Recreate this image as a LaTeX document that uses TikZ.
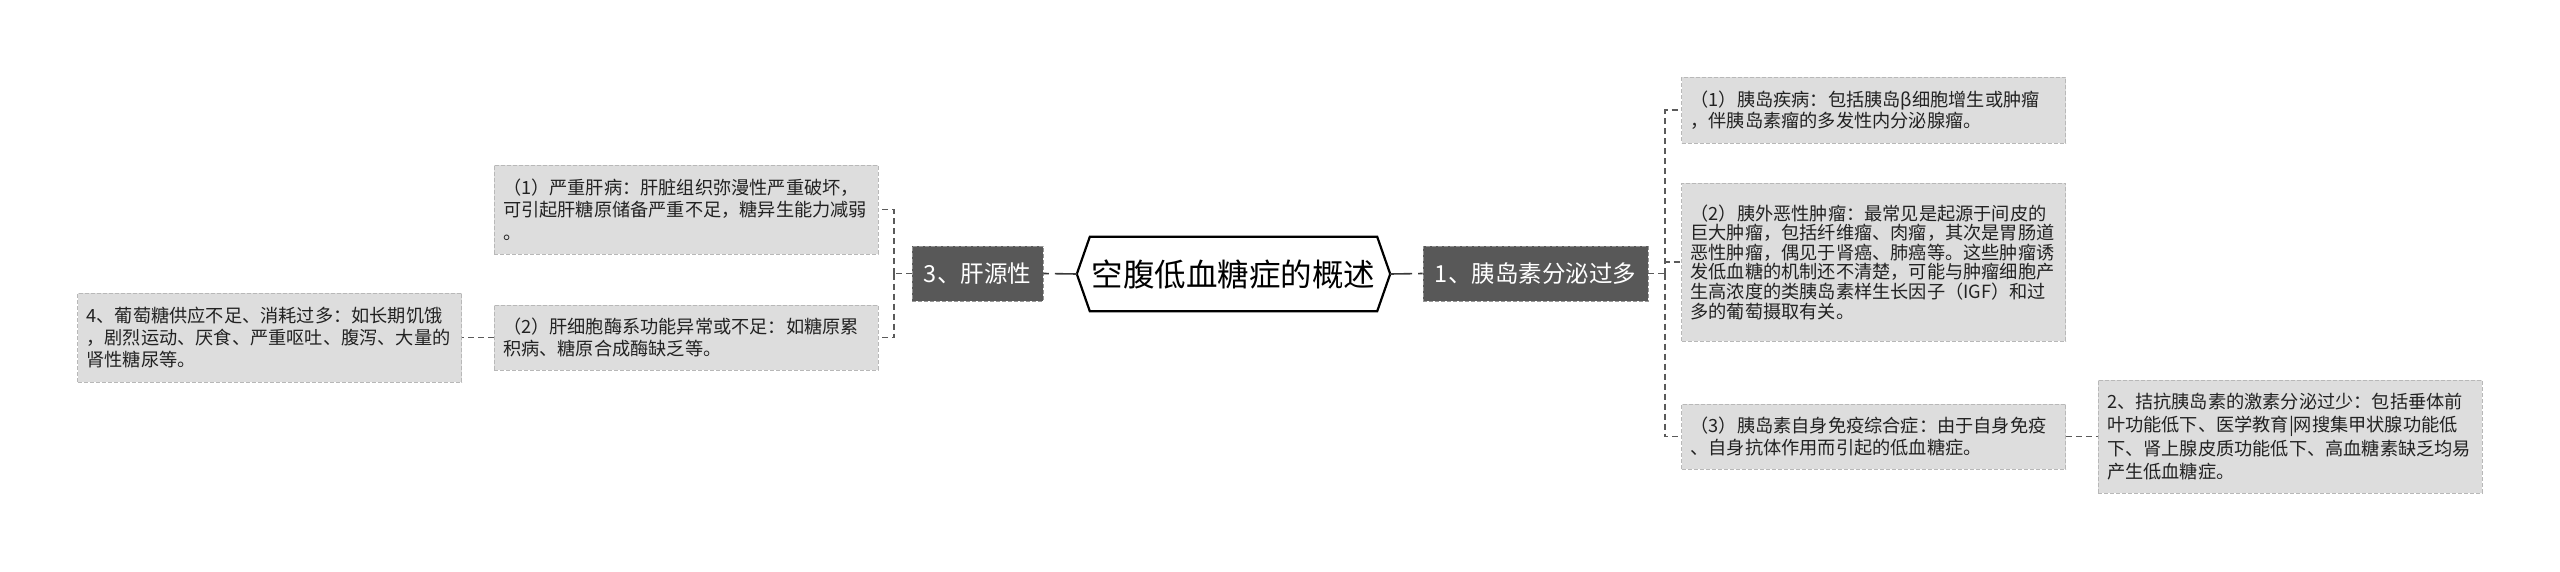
\documentclass[tikz,border=0pt]{standalone}
\usepackage{fontspec}
\setmainfont{Noto Sans CJK SC}
\usetikzlibrary{calc}
\definecolor{leaffill}{HTML}{DDDDDD}
\definecolor{leafdraw}{HTML}{B8B8B8}
\definecolor{midfill}{HTML}{585858}
\definecolor{middraw}{HTML}{959595}
\definecolor{linkc}{HTML}{5A5A5A}
\definecolor{hexlinkc}{HTML}{3A3A3A}
\definecolor{txt}{HTML}{222222}
\begin{document}
\begin{tikzpicture}[x=1pt,y=-1pt,
  leaf/.style={draw=leafdraw, fill=leaffill, dash pattern=on 4pt off 2pt, line width=0.8pt,
    text=txt, align=left, text width=366pt, inner xsep=9pt, inner ysep=0pt, anchor=center},
  leafA/.style={leaf, font=\fontsize{18.2}{21.5}\selectfont},
  midbox/.style={draw=middraw, fill=midfill, dash pattern=on 4pt off 2pt, line width=0.8pt,
    text=white, inner sep=0pt, minimum height=55pt, anchor=center,
    font=\fontsize{23.5}{26}\selectfont},
  hexbox/.style={draw=none, inner sep=0pt, minimum width=313pt, minimum height=74pt,
    anchor=center, font=\fontsize{31.5}{34}\selectfont, text=black},
  link/.style={draw=linkc, line width=1.5pt, dash pattern=on 6pt off 4pt},
  hexlink/.style={draw=hexlinkc, line width=1.6pt, dash pattern=on 22pt off 6pt},
]
\useasboundingbox (0,0) rectangle (2560,571);

% centre
\node[hexbox] (c) at (1233.5,274) {空腹低血糖症的概述};
\draw[line width=2.2pt, line join=miter]
  (c.west) -- ([xshift=13pt]c.north west) -- ([xshift=-13pt]c.north east)
  -- (c.east) -- ([xshift=-13pt]c.south east) -- ([xshift=13pt]c.south west) -- cycle;

% level 1
\node[midbox, minimum width=131pt] (s3) at (977.5,273.5) {3、肝源性};
\node[midbox, minimum width=225pt] (s1) at (1535.5,273.5) {1、胰岛素分泌过多};

% left leaves
\node[leaf, minimum height=89pt, font=\fontsize{18.2}{22.3}\selectfont] (l1) at (686,209.5)
  {（1）严重肝病：肝脏组织弥漫性严重破坏，\\可引起肝糖原储备严重不足，糖异生能力减弱\\。};
\node[leafA, minimum height=65pt] (l2) at (686,337.5)
  {（2）肝细胞酶系功能异常或不足：如糖原累\\积病、糖原合成酶缺乏等。};
\node[leaf, minimum height=89pt, font=\fontsize{18.2}{22.3}\selectfont] (n4) at (269.5,337.5)
  {4、葡萄糖供应不足、消耗过多：如长期饥饿\\，剧烈运动、厌食、严重呕吐、腹泻、大量的\\肾性糖尿等。};

% right leaves
\node[leafA, minimum height=66pt] (r1) at (1873.5,110)
  {（1）胰岛疾病：包括胰岛β细胞增生或肿瘤\\，伴胰岛素瘤的多发性内分泌腺瘤。};
\node[leaf, minimum height=158pt, font=\fontsize{18.2}{19.6}\selectfont] (r2) at (1873.5,262)
  {（2）胰外恶性肿瘤：最常见是起源于间皮的\\巨大肿瘤，包括纤维瘤、肉瘤，其次是胃肠道\\恶性肿瘤，偶见于肾癌、肺癌等。这些肿瘤诱\\发低血糖的机制还不清楚，可能与肿瘤细胞产\\生高浓度的类胰岛素样生长因子（IGF）和过\\多的葡萄摄取有关。};
\node[leafA, minimum height=65pt] (r3) at (1873.5,436.5)
  {（3）胰岛素自身免疫综合症：由于自身免疫\\、自身抗体作用而引起的低血糖症。};
\node[leaf, minimum height=113pt, font=\fontsize{18.2}{23.2}\selectfont] (r4) at (2290,436.5)
  {2、拮抗胰岛素的激素分泌过少：包括垂体前\\叶功能低下、医学教育|网搜集甲状腺功能低\\下、肾上腺皮质功能低下、高血糖素缺乏均易\\产生低血糖症。};

% junctions
\coordinate (jL) at (894,273.5);
\coordinate (jR) at (1665,273.5);

% connectors
\draw[hexlink] (c.west) -- (s3.east);
\draw[hexlink] (c.east) -- (s1.west);
\draw[link] (s3.west) -- (jL);
\draw[link] (jL) |- (l1.east);
\draw[link] (jL) |- (l2.east);
\draw[link] (l2.west) -- (n4.east);
\draw[link] (s1.east) -- (jR);
\draw[link] (jR) |- (r1.west);
\draw[link] (jR) |- (r2.west);
\draw[link] (jR) |- (r3.west);
\draw[link] (r3.east) -- (r4.west);
\end{tikzpicture}
\end{document}
